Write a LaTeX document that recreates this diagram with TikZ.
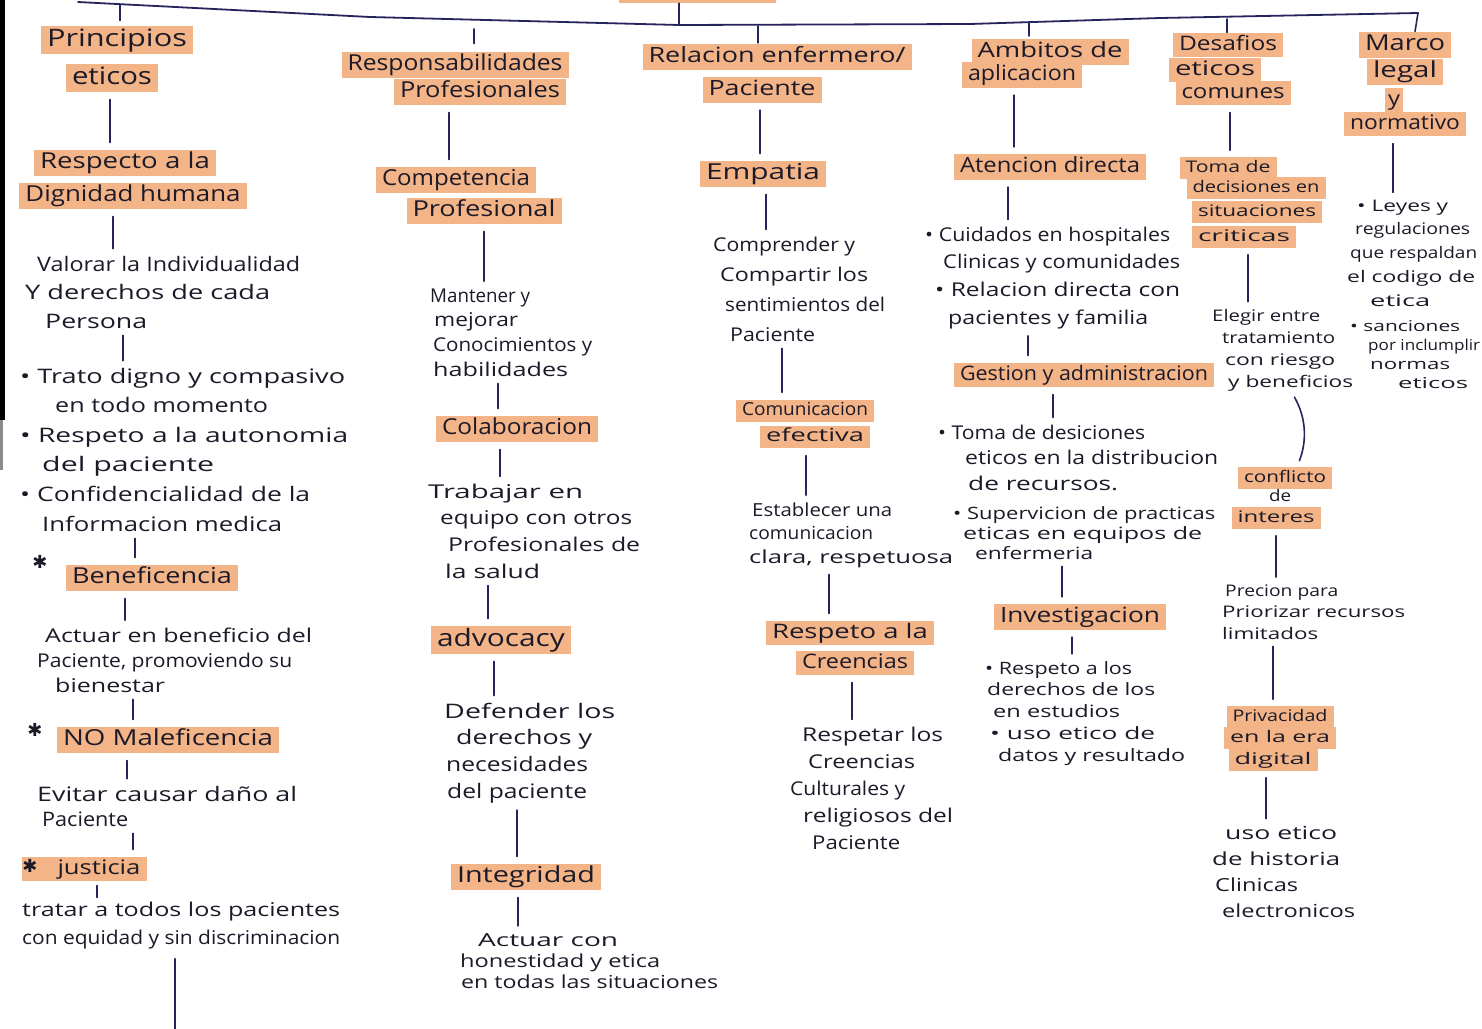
\documentclass[tikz,border=0pt]{standalone}
\usepackage{fontspec}
\setmainfont{Open Sans}
\newfontfamily\dv{DejaVu Sans}
\usepackage{graphicx}
\newlength\hwlen
\newcommand\hw[2]{\settowidth\hwlen{#2}\scalebox{\fpeval{#1/(\the\hwlen)}}[1]{#2}}
\definecolor{ink}{RGB}{28,26,40}
\definecolor{navy}{RGB}{38,36,92}
\definecolor{hl}{RGB}{243,180,135}
\tikzset{
  ttl/.style={fill=hl, text=ink, inner xsep=6pt, inner ysep=3pt,
    text height={0.72*#1pt}, text depth={0.22*#1pt}, font=\fontsize{#1}{#1}\selectfont},
  ttl/.default=22,
  bod/.style={text=ink, align=left, inner sep=0pt, anchor=base west},
  conn/.style={draw=navy, line width=1.6pt, line cap=round, shorten <=7pt, shorten >=7pt},
  tick/.style={draw=navy, line width=1.6pt, line cap=round},
  bus/.style={draw=navy, line width=1.8pt, line cap=round, line join=round},
  star/.style={text=ink, inner sep=0pt, font=\dv\fontsize{18}{18}\selectfont},
}
\begin{document}
\begin{tikzpicture}[x=1pt,y=-1pt]
\useasboundingbox (0,0) rectangle (1482,1028);
\fill[white] (0,0) rectangle (1482,1028);
\fill[black] (0,0) rectangle (5,420);
\fill[black!45] (0,420) rectangle (3,470);

% root (cut off at top) and bus
\node[fill=hl, minimum width=157pt, minimum height=6pt, inner sep=0pt] (root) at (697,0) {};
\coordinate (bA) at (78,2);
\coordinate (bB) at (370,17);
\coordinate (bC) at (679,25);
\coordinate (bD) at (970,24);
\coordinate (bE) at (1160,18);
\coordinate (bF) at (1418,13);
\draw[bus] (bA) -- (bB) -- (bC) -- (bD) -- (bE) -- (bF);
\draw[tick] (root.south -| bC) -- (bC);

% ---------- column 1 ----------
\node[ttl=24] (pe1) at (117,40) {\hw{140}{Principios}};
\node[ttl=24] (pe2) at (112,78) {\hw{80}{eticos}};
\node[ttl=22] (rd1) at (125,163) {\hw{170}{Respecto a la}};
\node[ttl=22] (rd2) at (133,196) {\hw{215}{Dignidad humana}};
\node[bod, font=\fontsize{20}{28.5}\selectfont] (v1) at (25,328)
  {\hspace*{12pt}\hw{263}{Valorar la Individualidad}\\
   \hw{245}{Y derechos de cada}\\
   \hspace*{20pt}\hw{102}{Persona}};
\node[bod, font=\fontsize{20}{29.6}\selectfont] (b1) at (20,531)
  {\hw{325}{• Trato digno y compasivo}\\
   \hspace*{35pt}\hw{213}{en todo momento}\\
   \hw{328}{• Respeto a la autonomia}\\
   \hspace*{22pt}\hw{172}{del paciente}\\
   \hw{290}{• Confidencialidad de la}\\
   \hspace*{22pt}\hw{240}{Informacion medica}};
\node[star] (s1) at (40,562) {✱};
\node[ttl=22] (ben) at (152,578) {\hw{160}{Beneficencia}};
\node[bod, font=\fontsize{19}{25}\selectfont] (a1) at (37,692)
  {\hspace*{8pt}\hw{267}{Actuar en beneficio del}\\
   \hw{255}{Paciente, promoviendo su}\\
   \hspace*{18pt}\hw{110}{bienestar}};
\node[star] (s2) at (35,730) {✱};
\node[ttl=22] (nm) at (168,740) {\hw{210}{NO Maleficencia}};
\node[bod, font=\fontsize{20}{25}\selectfont] (e1) at (37,826)
  {\hw{260}{Evitar causar daño al}\\
   \hspace*{5pt}\hw{86}{Paciente}};
\node[ttl=20] (ju) at (84,869) {\hspace*{30pt}\hw{83}{justicia}};
\node[star] (s3) at (30,866) {✱};
\node[bod, font=\fontsize{19}{28}\selectfont] (t1) at (22,944)
  {\hw{318}{tratar a todos los pacientes}\\
   \hw{318}{con equidad y sin discriminacion}};
\coordinate (cb) at (175,1030);

\draw[conn] (pe2.south -| 110,0) -- (rd1.north -| 110,0);
\draw[conn] (rd2.south -| 113,0) -- (v1.north -| 113,0);
\draw[conn] (v1.south -| 123,0) -- (b1.north -| 123,0);
\draw[conn] (b1.south -| 135,0) -- (ben.north -| 135,0);
\draw[conn] (ben.south -| 125,0) -- (a1.north -| 125,0);
\draw[conn] (a1.south -| 133,0) -- (nm.north -| 133,0);
\draw[conn] (nm.south -| 127,0) -- (e1.north -| 127,0);
\draw[conn] (e1.south -| 133,0) -- (ju.north -| 133,0);
\draw[conn, shorten <=4pt, shorten >=4pt] (ju.south -| 97,0) -- (t1.north -| 97,0);
\draw[conn, shorten >=0pt, shorten <=10pt] (t1.south -| cb) -- (cb);

% ---------- column 2 ----------
\node[ttl=22] (rp1) at (455,65) {\hw{215}{Responsabilidades}};
\node[ttl=22] (rp2) at (480,92) {\hw{160}{Profesionales}};
\node[ttl=22] (cp1) at (456,180) {\hw{148}{Competencia}};
\node[ttl=22] (cp2) at (484,211) {\hw{143}{Profesional}};
\node[bod, font=\fontsize{19}{24.7}\selectfont] (m1) at (430,376.1)
  {\hw{100}{Mantener y}\\
   \hspace*{4pt}\hw{84}{mejorar}\\
   \hspace*{3pt}\hw{159}{Conocimientos y}\\
   \hspace*{3pt}\hw{135}{habilidades}};
\node[ttl=22] (col) at (517,429) {\hw{150}{Colaboracion}};
\node[bod, font=\fontsize{19}{26.7}\selectfont] (t2) at (428,578.1)
  {\hw{155}{Trabajar en}\\
   \hspace*{12pt}\hw{192}{equipo con otros}\\
   \hspace*{20pt}\hw{192}{Profesionales de}\\
   \hspace*{17pt}\hw{95}{la salud}};
\node[ttl=24] (adv) at (501,640) {\hw{128}{advocacy}};
\node[bod, font=\fontsize{20}{26.7}\selectfont] (d2) at (444,798.1)
  {\hw{171}{Defender los}\\
   \hspace*{12pt}\hw{136}{derechos y}\\
   \hspace*{2pt}\hw{142}{necesidades}\\
   \hspace*{3pt}\hw{140}{del paciente}};
\node[ttl=22] (itg) at (526,877) {\hw{138}{Integridad}};
\node[bod, font=\fontsize{18}{21}\selectfont] (ac) at (460,988)
  {\hspace*{18pt}\hw{140}{Actuar con}\\
   \hw{200}{honestidad y etica}\\
   \hspace*{1pt}\hw{257}{en todas las situaciones}};

\draw[conn] (rp2.south -| 449,0) -- (cp1.north -| 449,0);
\draw[conn] (cp2.south -| 484,0) -- (m1.north -| 484,0);
\draw[conn] (m1.south -| 498,0) -- (col.north -| 498,0);
\draw[conn] (col.south -| 500,0) -- (t2.north -| 500,0);
\draw[conn] (t2.south -| 488,0) -- (adv.north -| 488,0);
\draw[conn] (adv.south -| 494,0) -- (d2.north -| 494,0);
\draw[conn] (d2.south -| 517,0) -- (itg.north -| 517,0);
\draw[conn] (itg.south -| 518,0) -- (ac.north -| 518,0);

% ---------- column 3 ----------
\node[ttl=21] (re1) at (777,57) {\hw{257}{Relacion enfermero/}};
\node[ttl=21] (re2) at (762,90) {\hw{107}{Paciente}};
\node[ttl=22] (emp) at (763,174) {\hw{114}{Empatia}};
\node[bod, font=\fontsize{19}{30}\selectfont] (c3) at (713,341)
  {\hw{142}{Comprender y}\\
   \hspace*{7pt}\hw{148}{Compartir los}\\
   \hspace*{12pt}\hw{160}{sentimientos del}\\
   \hspace*{17pt}\hw{85}{Paciente}};
\node[ttl=18] (com1) at (805,411) {\hw{126}{Comunicacion}};
\node[ttl=18] (com2) at (815,437) {\hw{98}{efectiva}};
\node[bod, font=\fontsize{18}{23.5}\selectfont] (es) at (749,563)
  {\hspace*{3pt}\hw{140}{Establecer una}\\
   \hw{124}{comunicacion}\\
   \hw{204}{clara, respetuosa}};
\node[ttl=20] (rc1) at (850,633) {\hw{156}{Respeto a la}};
\node[ttl=20] (rc2) at (855,663) {\hw{106}{Creencias}};
\node[bod, font=\fontsize{19}{27}\selectfont] (rs) at (790,849)
  {\hspace*{12pt}\hw{141}{Respetar los}\\
   \hspace*{18pt}\hw{107}{Creencias}\\
   \hw{115}{Culturales y}\\
   \hspace*{13pt}\hw{150}{religiosos del}\\
   \hspace*{22pt}\hw{88}{Paciente}};

\draw[conn] (re2.south -| 760,0) -- (emp.north -| 760,0);
\draw[conn] (emp.south -| 766,0) -- (c3.north -| 766,0);
\draw[conn] (c3.south -| 782,0) -- (com1.north -| 782,0);
\draw[conn] (com2.south -| 806,0) -- (es.north -| 806,0);
\draw[conn] (es.south -| 829,0) -- (rc1.north -| 829,0);
\draw[conn] (rc2.south -| 852,0) -- (rs.north -| 852,0);

% ---------- column 4 ----------
\node[ttl=21] (am1) at (1050,52) {\hw{145}{Ambitos de}};
\node[ttl=21] (am2) at (1022,75) {\hw{108}{aplicacion}};
\node[ttl=21] (at) at (1050,167) {\hw{180}{Atencion directa}};
\node[bod, font=\fontsize{19}{27.7}\selectfont] (cu) at (925,324.1)
  {\hw{245}{• Cuidados en hospitales}\\
   \hspace*{18pt}\hw{237}{Clinicas y comunidades}\\
   \hspace*{10pt}\hw{245}{• Relacion directa con}\\
   \hspace*{23pt}\hw{200}{pacientes y familia}};
\node[ttl=20] (ge) at (1084,375) {\hw{248}{Gestion y administracion}};
\node[bod, font=\fontsize{19}{25.5}\selectfont] (tm) at (938,490)
  {\hw{207}{• Toma de desiciones}\\
   \hspace*{27pt}\hw{253}{eticos en la distribucion}\\
   \hspace*{30pt}\hw{150}{de recursos.}};
\node[bod, font=\fontsize{17}{20}\selectfont] (sp) at (953,559)
  {\hw{262}{• Supervicion de practicas}\\
   \hspace*{10pt}\hw{239}{eticas en equipos de}\\
   \hspace*{22pt}\hw{118}{enfermeria}};
\node[ttl=21] (inv) at (1080,617) {\hw{160}{Investigacion}};
\node[bod, font=\fontsize{17}{21.75}\selectfont] (rl) at (985,761)
  {\hw{147}{• Respeto a los}\\
   \hspace*{2pt}\hw{168}{derechos de los}\\
   \hspace*{8pt}\hw{127}{en estudios}\\
   \hspace*{5pt}\hw{165}{• uso etico de}\\
   \hspace*{13pt}\hw{187}{datos y resultado}};

\draw[conn] (am2.south -| 1014,0) -- (at.north -| 1014,0);
\draw[conn] (at.south -| 1008,0) -- (cu.north -| 1008,0);
\draw[conn] (cu.south -| 1028,0) -- (ge.north -| 1028,0);
\draw[conn] (ge.south -| 1053,0) -- (tm.north -| 1053,0);
\draw[conn] (sp.south -| 1062,0) -- (inv.north -| 1062,0);
\draw[conn] (inv.south -| 1072,0) -- (rl.north -| 1072,0);

% ---------- column 5 ----------
\node[ttl=20] (de1) at (1228,45) {\hw{98}{Desafios}};
\node[ttl=20] (de2) at (1215,70) {\hw{80}{eticos}};
\node[ttl=20] (de3) at (1233,93) {\hw{103}{comunes}};
\node[ttl=16] (td1) at (1228,168) {\hw{85}{Toma de}};
\node[ttl=16] (td2) at (1256,188) {\hw{127}{decisiones en}};
\node[ttl=16] (td3) at (1257,212) {\hw{118}{situaciones}};
\node[ttl=16] (td4) at (1244,237) {\hw{92}{criticas}};
\node[bod, font=\fontsize{16}{22}\selectfont] (el) at (1212,387)
  {\hw{108}{Elegir entre}\\
   \hspace*{10pt}\hw{113}{tratamiento}\\
   \hspace*{13pt}\hw{110}{con riesgo}\\
   \hspace*{16pt}\hw{125}{y beneficios}};
\node[ttl=16] (cf1) at (1285,478) {\hw{82}{conflicto}};
\node[ttl=16, fill=none] (cf2) at (1280,497) {\hw{22}{de}};
\node[ttl=16] (cf3) at (1276,518) {\hw{77}{interes}};
\node[bod, font=\fontsize{16}{21.5}\selectfont] (pr) at (1222,639)
  {\hspace*{3pt}\hw{113}{Precion para}\\
   \hw{183}{Priorizar recursos}\\
   \hw{96}{limitados}};
\node[ttl=16] (pv1) at (1280,717) {\hw{95}{Privacidad}};
\node[ttl=16] (pv2) at (1280,738) {\hw{100}{en la era}};
\node[ttl=16] (pv3) at (1273,760) {\hw{77}{digital}};
\node[bod, font=\fontsize{18}{26.3}\selectfont] (us) at (1212,917.9)
  {\hspace*{13pt}\hw{112}{uso etico}\\
   \hw{128}{de historia}\\
   \hspace*{3pt}\hw{83}{Clinicas}\\
   \hspace*{10pt}\hw{133}{electronicos}};

\draw[conn] (de3.south -| 1230,0) -- (td1.north -| 1230,0);
\draw[conn] (td4.south -| 1248,0) -- (el.north -| 1248,0);
\draw[conn] (el.south -| 1291,0) to[bend left=25] (cf1.north -| 1297,0);
\draw[conn] (cf3.south -| 1276,0) -- (pr.north -| 1276,0);
\draw[conn] (pr.south -| 1273,0) -- (pv1.north -| 1273,0);
\draw[conn] (pv3.south -| 1266,0) -- (us.north -| 1266,0);

% ---------- column 6 ----------
\node[ttl=22] (mc1) at (1405,45) {\hw{80}{Marco}};
\node[ttl=22] (mc2) at (1405,72) {\hw{64}{legal}};
\node[ttl=20, inner xsep=3pt] (mc3) at (1394,100) {\hw{12}{y}};
\node[ttl=20] (mc4) at (1405,124) {\hw{110}{normativo}};
\node[bod, font=\fontsize{16}{23.75}\selectfont] (ly) at (1347,306)
  {\hspace*{10pt}\hw{91}{• Leyes y}\\
   \hspace*{8pt}\hw{115}{regulaciones}\\
   \hspace*{3pt}\hw{127}{que respaldan}\\
   \hw{128}{el codigo de}\\
   \hspace*{23pt}\hw{60}{etica}};
\node[bod, font=\fontsize{15}{19}\selectfont] (sa) at (1350,388)
  {\hw{110}{• sanciones}\\
   \hspace*{18pt}\hw{112}{por inclumplir}\\
   \hspace*{20pt}\hw{80}{normas}\\
   \hspace*{48pt}\hw{70}{eticos}};

\draw[conn] (mc4.south -| 1393,0) -- (ly.north -| 1393,0);

% ---------- ticks from the bus ----------
\coordinate (k1) at (120,5);
\coordinate (k2) at (474,29);
\coordinate (k3) at (758,26);
\coordinate (k4) at (1029,23);
\coordinate (k5) at (1227,19);
\draw[tick, shorten >=5pt] (k1) -- (pe1.north -| k1);
\draw[tick, shorten >=8pt] (k2) -- (rp1.north -| k2);
\draw[tick, shorten >=1pt] (k3) -- (re1.north -| k3);
\draw[tick, shorten >=3pt] (k4) -- (am1.north -| k4);
\draw[tick] (k5) -- (de1.north -| k5);
\draw[tick] (bF) -- (mc1.north -| 1415,0);
\end{tikzpicture}
\end{document}
